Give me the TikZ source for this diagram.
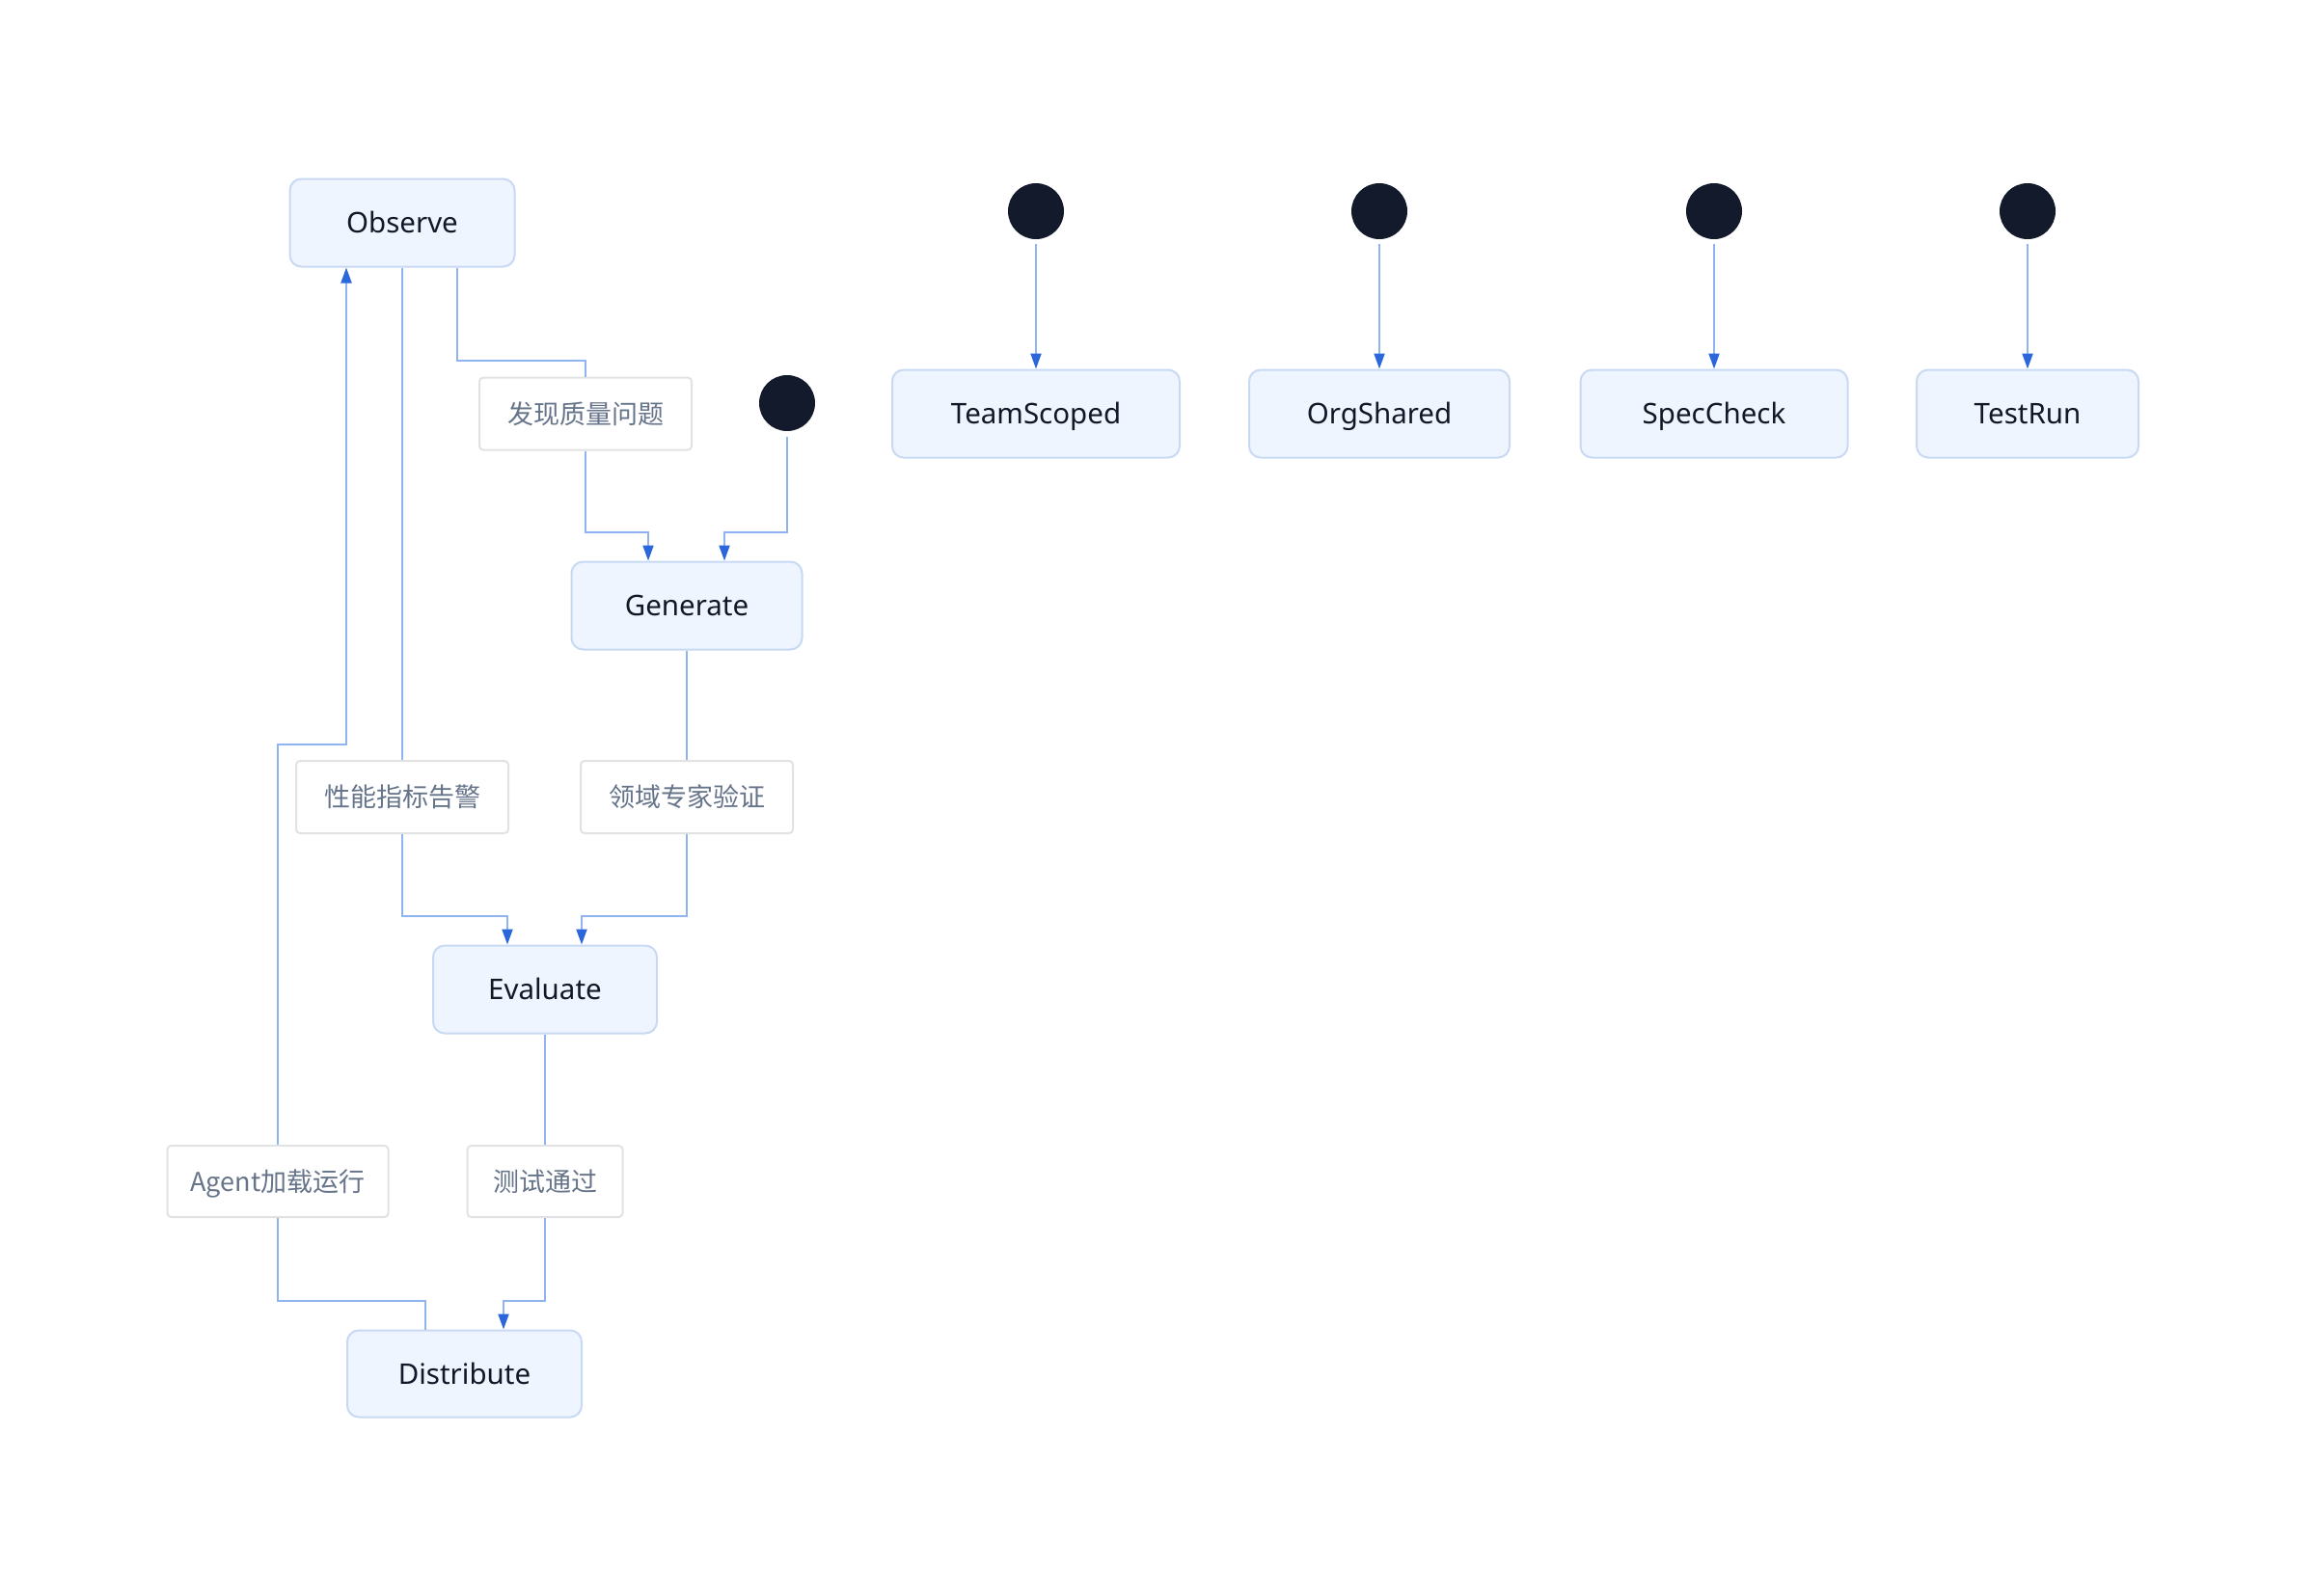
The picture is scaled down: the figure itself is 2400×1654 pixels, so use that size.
\documentclass[tikz,border=0pt]{standalone}
\usepackage{fontspec}
\setmainfont{Noto Sans}
\newfontfamily\cjk{Noto Sans CJK SC}
\usetikzlibrary{arrows.meta}
\definecolor{boxfill}{HTML}{EFF5FE}
\definecolor{boxline}{HTML}{C8D9F4}
\definecolor{edgeline}{HTML}{8FB4F0}
\definecolor{arrowblue}{HTML}{2C66DB}
\definecolor{dotfill}{HTML}{121A2B}
\definecolor{nodetext}{HTML}{111827}
\definecolor{lblline}{HTML}{E2E2E2}
\definecolor{lbltext}{HTML}{66748A}
\tikzset{
  statebox/.style={draw=boxline, fill=boxfill, line width=2pt, rounded corners=12pt,
    inner sep=0pt, minimum height=91pt, text=nodetext, text height=22pt, text depth=0.5pt,
    font=\fontsize{29.5}{34}\selectfont},
  lblbox/.style={draw=lblline, fill=white, line width=2pt, rounded corners=4pt,
    inner sep=0pt, minimum height=75pt, text=lbltext, text height=22.5pt, text depth=2.5pt,
    font=\cjk\fontsize{27}{32}\selectfont},
  startdot/.style={circle, fill=dotfill, draw=none, minimum size=58pt, inner sep=0pt},
  edge/.style={draw=edgeline, line width=2pt},
  edgea/.style={draw=edgeline, line width=2pt, -{Triangle[length=16pt, width=11pt, color=arrowblue]}},
}
\begin{document}
\begin{tikzpicture}[x=1pt,y=-1pt]
\useasboundingbox[fill=white] (0,0) rectangle (2400,1654);
% state nodes
\node[statebox, minimum width=233pt] (obs) at (417,231) {Observe};
\node[statebox, minimum width=239pt] (gen) at (712,628) {Generate};
\node[statebox, minimum width=232pt] (eva) at (565,1026) {Evaluate};
\node[statebox, minimum width=243pt, minimum height=90pt] (dis) at (481.5,1424.5) {Distribute};
\node[statebox, minimum width=298pt] (team) at (1074,429) {TeamScoped};
\node[statebox, minimum width=270pt] (org) at (1430,429) {OrgShared};
\node[statebox, minimum width=277pt] (spec) at (1777,429) {SpecCheck};
\node[statebox, minimum width=230pt] (test) at (2102,429) {TestRun};
% start dots
\node[startdot] (s0) at (816,418) {};
\node[startdot] (s1) at (1074,219) {};
\node[startdot] (s2) at (1430,219) {};
\node[startdot] (s3) at (1777,219) {};
\node[startdot] (s4) at (2102,219) {};
% labels
\node[lblbox, minimum width=220pt] (l1) at (607,429) {发现质量问题};
\node[lblbox, minimum width=220pt] (l2) at (417,826.5) {性能指标告警};
\node[lblbox, minimum width=220pt] (l3) at (712,826.5) {领域专家验证};
\node[lblbox, minimum width=229pt, minimum height=74pt] (l4) at (288,1225) {Agent加载运行};
\node[lblbox, minimum width=161pt, minimum height=74pt] (l5) at (565,1225) {测试通过};
% edges
\draw[edge] (obs.south -| 474,0) -- (474,374) -| (l1.north);
\draw[edgea] (l1.south) -- (607,552) -| (gen.north -| 672,0);
\draw[edgea] ([yshift=-6pt]s0.south) -- (816,552) -| (gen.north -| 751,0);
\draw[edge] (obs.south) -- (l2.north);
\draw[edgea] (l2.south) -- (417,950) -| (eva.north -| 526,0);
\draw[edge] (gen.south) -- (l3.north);
\draw[edgea] (l3.south) -- (712,950) -| (eva.north -| 603,0);
\draw[edge] (eva.south) -- (l5.north);
\draw[edgea] (l5.south) -- (565,1349) -| (dis.north -| 522,0);
\draw[edge] (dis.north -| 441,0) -- (441,1349) -| (l4.south);
\draw[edgea] (l4.north) -- (288,772) -| (obs.south -| 359,0);
\draw[edgea] ([yshift=-5pt]s1.south) -- (team.north);
\draw[edgea] ([yshift=-5pt]s2.south) -- (org.north);
\draw[edgea] ([yshift=-5pt]s3.south) -- (spec.north);
\draw[edgea] ([yshift=-5pt]s4.south) -- (test.north);
\end{tikzpicture}
\end{document}
